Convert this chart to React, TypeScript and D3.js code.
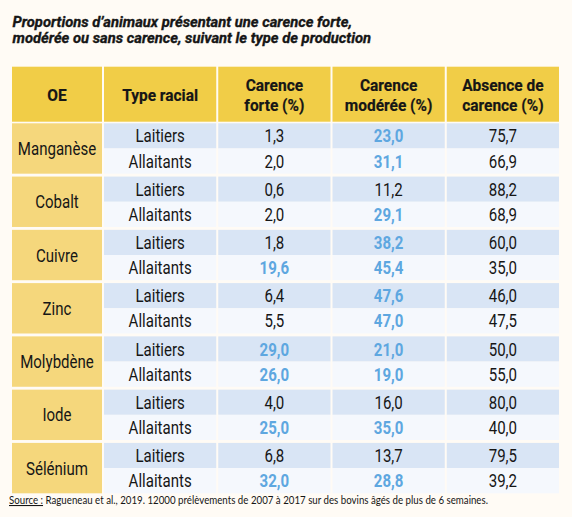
import React from "react";
import * as d3 from "d3";

const titleLines = [
  "Proportions d’animaux présentant une carence forte,",
  "modérée ou sans carence, suivant le type de production",
];
const headers = [["OE"], ["Type racial"], ["Carence", "forte (%)"], ["Carence", "modérée (%)"], ["Absence de", "carence (%)"]];
const elements = ["Manganèse", "Cobalt", "Cuivre", "Zinc", "Molybdène", "Iode", "Sélénium"];
const types = ["Laitiers", "Allaitants"];
const forte = [1.3, 2.0, 0.6, 2.0, 1.8, 19.6, 6.4, 5.5, 29.0, 26.0, 4.0, 25.0, 6.8, 32.0];
const moderee = [23.0, 31.1, 11.2, 29.1, 38.2, 45.4, 47.6, 47.0, 21.0, 19.0, 16.0, 35.0, 13.7, 28.8];
const absence = [75.7, 66.9, 88.2, 68.9, 60.0, 35.0, 46.0, 47.5, 50.0, 55.0, 80.0, 40.0, 79.5, 39.2];
const highlightThreshold = 19; // carences >= 19 % en bleu (colonnes carence forte / modérée)
const sourceLabel = "Source :";
const sourceText = " Ragueneau et al., 2019. 12000 prélèvements de 2007 à 2017 sur des bovins âgés de plus de 6 semaines.";

const W = 572;
const H = 517;
const FONT = "Roboto, 'Liberation Sans', sans-serif";
const SX = 0.86; // condensed look
const BG = "#fffbf5";
const HEADER = "#f1cd47";
const OECELL = "#f5d77c";
const ROW1 = "#d9e5f5";
const ROW2 = "#f5f8fd";
const BLUE = "#5ea7e0";
const INK = "#161616";

const fr = d3.formatLocale({ decimal: ",", thousands: " ", grouping: [3], currency: ["", "€"] });
const fmt = fr.format(".1f");

type CTProps = {
  x: number;
  y: number;
  size: number;
  anchor?: "start" | "middle" | "end";
  weight?: string;
  italic?: boolean;
  fill?: string;
  sx?: number;
  stroke?: number;
  lines?: string[];
  lineGap?: number;
  children?: React.ReactNode;
};

function CText({ x, y, size, anchor = "middle", weight = "normal", italic = false, fill = INK, sx = SX, stroke = 0, lines, lineGap = 0, children }: CTProps) {
  return (
    <text
      transform={`translate(${x},${y}) scale(${sx},1)`}
      textAnchor={anchor}
      fontFamily={FONT}
      fontSize={size}
      fontWeight={weight}
      fontStyle={italic ? "italic" : "normal"}
      fill={fill}
      stroke={stroke ? fill : "none"}
      strokeWidth={stroke}
    >
      {lines
        ? lines.map((l, i) => (
            <tspan key={i} x={0} y={i * lineGap}>
              {l}
            </tspan>
          ))
        : children}
    </text>
  );
}

export default function App() {
  const x0 = 12, oeRight = 102, right = 557;
  const colScale = d3.scaleBand<number>().domain([0, 1, 2, 3]).range([102, right + 2]).paddingInner(0).paddingOuter(0);
  const gap = 2;
  const yGroup = d3.scaleBand<string>().domain(elements).range([123.3, 493.3]).paddingInner(0.054).paddingOuter(0);
  const rowH = yGroup.bandwidth() / 2;
  const headerTop = 66.7, headerBottom = 121.7;

  const colX = (c: number) => (c === 0 ? x0 : colScale(c - 1)! + gap);
  const colW = (c: number) => (c === 0 ? oeRight - x0 : colScale.bandwidth() - gap);
  const colC = (c: number) => colX(c) + colW(c) / 2;

  const numCols = [forte, moderee, absence];
  const DS = 17.5;
  const dy = 6.6;
  const HS = 17;
  const HSX = SX * 18 / HS;

  return (
    <svg width={W} height={H} style={{ display: "block", position: "absolute", left: 0, top: 0 }}>
      <rect x={0} y={0} width={W} height={H} fill={BG} />
      <CText x={12.5} y={26.7} size={15} anchor="start" weight="bold" italic sx={0.985} stroke={0.35} lines={titleLines} lineGap={16.5} />
      {headers.map((h, c) => (
        <g key={c}>
          <rect x={colX(c)} y={headerTop} width={colW(c)} height={headerBottom - headerTop} fill={HEADER} />
          <CText x={colC(c)} y={h.length === 1 ? 101.2 : 91.1} size={HS} sx={HSX} weight="bold" stroke={0.2} lines={h} lineGap={20} />
        </g>
      ))}
      {elements.map((el, g) => {
        const gy = yGroup(el)!;
        return (
          <g key={el}>
            <rect x={colX(0)} y={gy} width={colW(0)} height={yGroup.bandwidth()} fill={OECELL} />
            <CText x={colC(0)} y={gy + yGroup.bandwidth() / 2 + dy} size={DS}>
              {el}
            </CText>
            {types.map((t, r) => {
              const idx = g * 2 + r;
              const ry = gy + r * rowH;
              return (
                <g key={t}>
                  {[1, 2, 3, 4].map((c) => (
                    <rect key={c} x={colX(c)} y={ry} width={colW(c)} height={rowH} fill={r === 0 ? ROW1 : ROW2} />
                  ))}
                  <CText x={colC(1)} y={ry + rowH / 2 + dy} size={DS}>
                    {t}
                  </CText>
                  {numCols.map((arr, k) => {
                    const v = arr[idx];
                    const hl = k < 2 && v >= highlightThreshold;
                    return (
                      <CText key={k} x={colC(k + 2)} y={ry + rowH / 2 + dy} size={DS} weight={hl ? "bold" : "normal"} fill={hl ? BLUE : INK}>
                        {fmt(v)}
                      </CText>
                    );
                  })}
                </g>
              );
            })}
          </g>
        );
      })}
      <text x={9} y={504} fontFamily="Lato, 'Open Sans', sans-serif" fontSize={10.7} fill={INK} textLength={479} lengthAdjust="spacingAndGlyphs">
        <tspan textDecoration="underline">{sourceLabel}</tspan>
        <tspan>{sourceText}</tspan>
      </text>
    </svg>
  );
}
